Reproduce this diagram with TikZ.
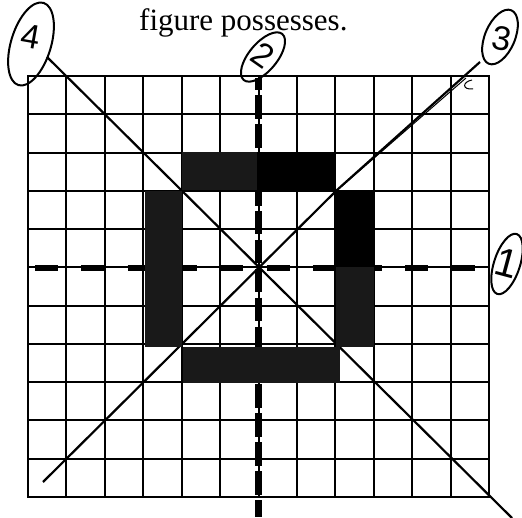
\documentclass[tikz,border=0pt]{standalone}
\usepackage{fontspec}
\setmainfont{Liberation Serif}
\newfontfamily\handfont{Liberation Sans}
\usetikzlibrary{shapes.geometric}
\begin{document}
\begin{tikzpicture}[x=1pt,y=-1pt,
  gridline/.style={line width=2pt},
  border/.style={line width=2.6pt},
  diag/.style={line width=2.2pt},
  scribble/.style={fill=black!90},
  solidblk/.style={fill=black},
  hand/.style={font=\handfont\fontsize{34}{34}\selectfont, inner sep=0pt},
  loopring/.style={draw, ellipse, line width=2pt, inner sep=0pt},
  axisdash/.style={line width=6.5pt},
]
\useasboundingbox (0,0) rectangle (522,518);

% grid
\foreach \i in {1,...,11} \draw[gridline] ({28+38.42*\i},76) -- ({28+38.42*\i},497);
\foreach \j in {1,...,10} \draw[gridline] (28,{76+38.27*\j}) -- (489,{76+38.27*\j});
\draw[border] (28,76) rectangle (489,497);

% diagonals
\coordinate (d4s) at (47,57);
\coordinate (d4e) at (512,518);
\draw[diag] (d4s) -- (d4e);
\coordinate (d3s) at (43,482);
\coordinate (d3m) at (337,190);
\coordinate (d3e) at (480,62);
\draw[diag] (d3s) -- (d3m) -- (d3e);
\coordinate (d3b) at (342,186);
\coordinate (d3c) at (466,78);
\draw[line width=1pt] (d3b) -- (d3c);
\coordinate (cs) at (472,80);
\coordinate (ce) at (473,89);
\draw[line width=1pt] (cs) .. controls (462,82) and (462,90) .. (ce);

% dashed axes
\coordinate (vs) at (258.5,78);
\coordinate (ve) at (258.5,517);
\draw[axisdash, dash pattern=on 23.5pt off 5.4pt, dash phase=11.5pt] (vs) -- (ve);
\coordinate (hs) at (35,268);
\coordinate (he) at (474.5,268);
\draw[line width=6pt, dash pattern=on 23pt off 23.3pt] (hs) -- (he);

% shaded cells
\fill[scribble] (182,152) rectangle (257,190);
\fill[solidblk] (257,152) rectangle (336,190);
\fill[solidblk] (336,190) rectangle (375,267);
\fill[scribble] (336,267) rectangle (374,347);
\fill[scribble] (145,191) rectangle (182,347);
\fill[scribble] (183,347) rectangle (340,383);

% caption
\node[anchor=base west, inner sep=0pt, font=\fontsize{31}{31}\selectfont] (cap) at (139,31) {figure possesses.};

% circled labels
\node[loopring, minimum width=40pt, minimum height=86pt, rotate=-17] (c4) at (31,44) {};
\node[hand, rotate=-10] (t4) at (31,37) {4};
\node[loopring, minimum width=28pt, minimum height=60pt, rotate=-40] (c2) at (263,57) {};
\node[hand, rotate=-35] (t2) at (263,55) {2};
\node[loopring, minimum width=30pt, minimum height=58pt, rotate=-23] (c3) at (500,37) {};
\node[hand, rotate=-10] (t3) at (502,39) {3};
\node[loopring, minimum width=26pt, minimum height=63pt, rotate=-18] (c1) at (507,264) {};
\node[hand, font=\handfont\fontsize{40}{40}\selectfont, rotate=-15] (t1) at (507,263) {1};
\end{tikzpicture}
\end{document}
